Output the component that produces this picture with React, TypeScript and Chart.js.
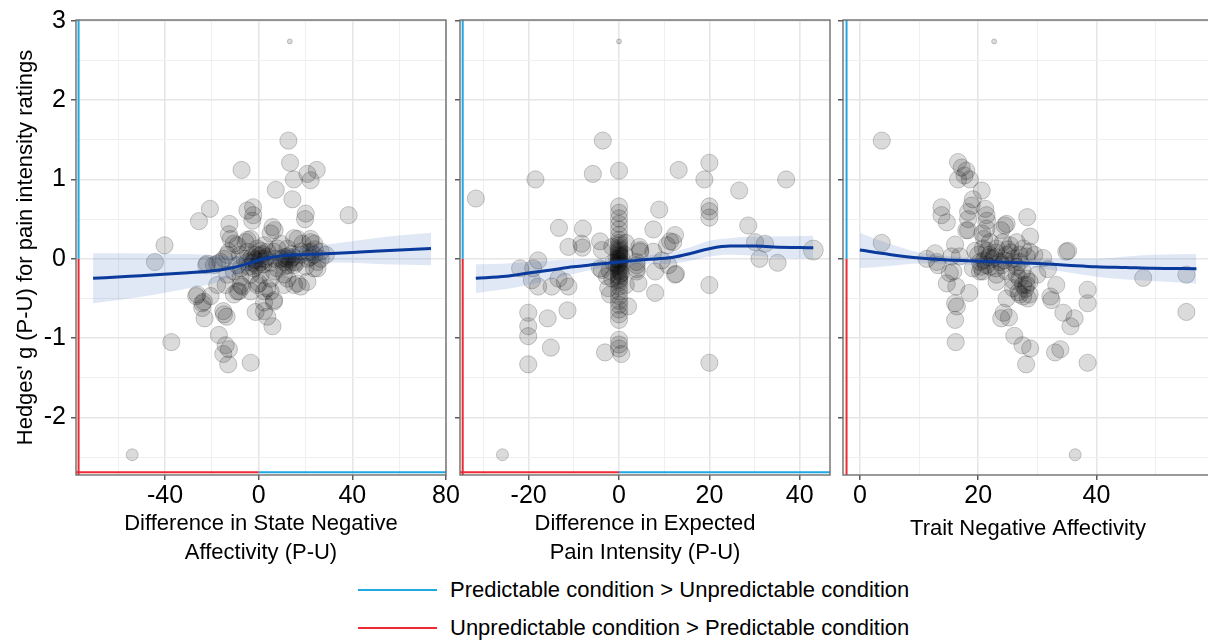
import React, { useEffect, useRef } from "react";
import { Chart, registerables } from "chart.js";

Chart.register(...registerables);

type Pt = [number, number, number?];

const FONT = '"Liberation Sans", Arial, Helvetica, sans-serif';
const BLUE = "#1fa8e2";
const RED = "#ee2a35";

// ---------- shared y axis ----------
const yMajorTicks = [-2, -1, 0, 1, 2, 3];
const yMinorTicks = [-2.5, -1.5, -0.5, 0.5, 1.5, 2.5];
const yLimits = [-2.725, 3.01];
const yTitle = "Hedges' g (P-U) for pain intensity ratings";
const refLineBottomY = -2.69;

// ---------- panel 1: state negative affectivity ----------
const stateTicks = [-40, 0, 40, 80];
const stateMinor = [-60, -20, 20, 60];
const stateLimits = [-78, 80];
const stateTitle = ["Difference in State Negative", "Affectivity (P-U)"];
const stateRefX = -76.9;
const statePoints: Pt[] = [
  [13.3, 2.74, 2.5], [12.7, 1.49], [13.4, 1.21], [-7.3, 1.12], [15, 1.0], [20.8, 1.07], [22.2, 0.99],
  [24.8, 1.12], [7.3, 0.87], [14.4, 0.75], [-20.8, 0.63], [-25.5, 0.475], [-4.8, 0.61], [-2.4, 0.65],
  [-2.7, 0.48], [-2.3, 0.55], [20.1, 0.57], [19.8, 0.5], [38.4, 0.55], [-12.5, 0.44], [-12.7, 0.31],
  [-12, 0.25], [-40.2, 0.17], [5.9, 0.4], [6.8, 0.36], [5.1, 0.32], [-3.4, 0.25], [15.1, 0.26],
  [22.2, 0.25], [23.7, 0.19], [-4.8, 0.24], [-10.6, 0.19], [-44.3, -0.04], [-37.3, -1.05], [-54, -2.47, 6],
  [-26.7, -0.47], [-24.1, -0.56], [-20.5, -0.47], [-23.1, -0.75], [-17.7, -0.33], [-15.1, -0.66],
  [-13.7, -0.73], [-17, -0.96], [-14.1, -1.09], [-12.7, -1.14], [-15.1, -1.2], [-13, -1.33], [-3.4, -1.31],
  [-1.3, -0.67], [2.3, -0.66], [3.7, -0.73], [5.9, -0.85], [6.6, -0.52], [2.3, -0.55], [-22.4, -0.08],
  [-19.1, -0.08], [-8.4, -0.41], [-10.6, -0.45], [-7.7, -0.33], [-0.6, -0.33], [3.7, -0.37], [10.8, -0.33],
  [15.1, -0.33], [18, -0.35], [20.8, -0.29], [25.1, -0.12], [26.5, 0], [22.2, 0.21], [16.6, 0.25],
  [-13.4, 0.05], [-16.3, -0.04], [0.9, 0], [-0.6, -0.08], [3.7, 0.09], [8, 0.13], [12.3, 0.03],
  [15.1, -0.04], [18, 0.05], [22.2, 0.09], [-4.8, 0.09], [-7.7, -0.12], [-3.4, -0.2], [0.9, -0.2],
  [6.6, -0.16], [10.8, -0.2], [-10.6, -0.16], [-13.4, -0.2], [-22, -0.06], [-17.7, -0.06], [-14.8, 0],
  [-12.7, 0.09], [-9.1, 0.17], [-5.6, 0.21], [-0.6, 0.13], [2.3, 0.17], [9.4, 0.19], [12.3, 0.13],
  [18.7, 0.19], [26.5, 0.09], [28.7, 0.05], [-2, 0], [0.9, -0.04], [-0.6, -0.1], [3.7, 0.03],
  [-4.8, -0.04], [-9.1, -0.08], [-7.7, -0.23], [10.8, -0.04], [13.7, 0], [15.1, -0.08], [10.8, -0.1],
  [20.8, 0], [23.7, 0.05], [25.1, -0.04], [18, 0.09], [6.5, 0.09], [8, -0.12], [5.1, -0.25], [0.1, -0.31],
  [12.3, -0.25], [16.6, -0.31], [23.7, -0.12], [-14.1, -0.33], [-9.1, -0.41], [-7, -0.35], [-26.2, -0.45],
  [-23.4, -0.54], [-24.1, -0.62], [-14.8, -0.7], [-3.4, -0.41], [2.3, -0.41], [5.1, -0.41], [6.5, -0.54],
  [-1, 0.05], [1.5, 0.06], [-2.5, -0.05], [12, 0.0], [14, 0.06], [22, 0.02], [20, -0.1],
  [-3, 0.02], [-1.5, -0.02], [0.3, 0.04], [2, -0.07], [-2, -0.12], [1, 0.1], [-4, -0.1], [3, 0.0],
  [11, 0.02], [13, -0.03], [14.5, 0.02], [16, -0.05], [12.5, -0.08], [9.5, 0.0], [21, 0.08], [24, 0.12],
  [-6, 0.0], [-8, 0.05], [5, -0.05], [7, 0.0],
];
const stateSmoothX = [-70.7, -55, -40.6, -30, -19.3, -10.7, -3.4, 2.1, 10.7, 18, 26.5, 40, 53.5, 73.6];
const stateSmoothY = [-0.246, -0.22, -0.196, -0.175, -0.15, -0.11, -0.05, 0.0, 0.04, 0.052, 0.06, 0.08, 0.1, 0.13];
const stateUpper = [0.07, 0.07, 0.065, 0.06, 0.045, 0.03, 0.03, 0.06, 0.11, 0.14, 0.17, 0.22, 0.275, 0.33];
const stateLower = [-0.56, -0.5, -0.43, -0.37, -0.31, -0.22, -0.13, -0.06, -0.03, -0.03, -0.04, -0.05, -0.07, -0.08];

// ---------- panel 2: expected pain intensity ----------
const expTicks = [-20, 0, 20, 40];
const expMinor = [-30, -10, 10, 30];
const expLimits = [-35.2, 46.7];
const expTitle = ["Difference in Expected", "Pain Intensity (P-U)"];
const expRefX = -34.6;
const expPoints: Pt[] = [
  [0, 2.74, 2.5], [-3.6, 1.49], [0, 1.11], [-5.8, 1.07], [-18.5, 1.0], [-31.7, 0.76], [13.2, 1.12],
  [20, 1.21], [18.9, 1.0], [37, 1.0], [26.6, 0.86], [8.9, 0.62], [20, 0.66], [20, 0.6], [20, 0.52],
  [28.6, 0.42], [0, 0.66], [0, 0.58], [0, 0.51], [0, 0.44], [0, 0.37], [0, 0.3], [0, 0.24], [0, 0.17],
  [0, 0.12], [0, 0.08], [0, 0.04], [0, 0.0], [0, -0.02], [0, -0.05], [0, -0.08], [0, -0.12], [0, -0.16],
  [0, -0.2], [0, -0.25], [0, -0.3], [0, -0.35], [0, -0.41], [0, -0.47], [0, -0.53], [0, -0.58],
  [0, -0.64], [0, -0.7], [0, -0.77], [0, -1.02], [0, -1.08], [0, -1.13], [-13.3, 0.39], [-8, 0.38],
  [7.6, 0.37], [12.4, 0.3], [30.1, 0.21], [32.3, 0.19], [-11.2, 0.15], [-8.3, 0.19], [-8.1, 0.14],
  [-4.2, 0.22], [-3.8, 0.11], [-3.8, -0.14], [-2.1, -0.15], [4.5, 0.15], [11.3, 0.22], [12, 0.21],
  [10.6, 0.17], [4.7, 0.11], [7.6, 0.09], [9.5, -0.02], [3.9, -0.04], [3.9, -0.16], [4.3, -0.31],
  [10.9, -0.08], [12.4, -0.2], [8, -0.16], [8, -0.43], [12.6, -0.19], [20, -0.33], [20, -1.31],
  [31.1, 0], [35.1, -0.05], [43, 0.11, 10], [-21.9, -0.12], [-17.9, -0.02], [-19, -0.12], [-19.3, -0.27],
  [-17.9, -0.35], [-14.9, -0.35], [-13.4, -0.25], [-12, -0.29], [-11.2, -0.35], [-20.1, -0.68],
  [-20.1, -0.85], [-20.1, -0.975], [-20.1, -1.33], [-15.8, -0.75], [-11.4, -0.65], [-15.1, -1.12],
  [-3.1, -1.18], [-25.8, -2.47, 6], [1.5, -0.33], [-1.5, -0.25], [1.5, 0.2], [-1.5, 0.15], [2, -0.6],
  [-2, -0.45], [0.5, -1.2], [3.9, -0.08], [3.9, -0.13], [4.7, 0.09], [-4.2, -0.12], [-2.4, -0.37],
  [-2.7, -0.22], [1.2, 0.05], [-1.2, -0.05],
  [0, 0.1], [0, 0.06], [0, 0.02], [0, -0.03], [0, -0.06], [0, -0.1], [0, 0.14], [0, -0.14], [0, 0.2],
  [0.4, -0.18], [-0.4, 0.0], [0.4, 0.03], [-0.4, -0.08], [0, -0.22], [0, -0.27],
];
const expSmoothX = [-31.7, -25, -20.1, -15, -10.1, -5, 0, 6, 12, 16, 20.2, 24.6, 30, 34.2, 43];
const expSmoothY = [-0.245, -0.22, -0.18, -0.14, -0.1, -0.07, -0.04, -0.01, 0.02, 0.07, 0.13, 0.16, 0.16, 0.15, 0.14];
const expUpper = [-0.07, -0.06, -0.04, -0.02, -0.01, 0.0, 0.0, 0.04, 0.09, 0.15, 0.23, 0.26, 0.28, 0.28, 0.29];
const expLower = [-0.43, -0.38, -0.33, -0.26, -0.19, -0.13, -0.08, -0.07, -0.06, -0.02, 0.03, 0.05, 0.04, 0.02, 0.0];

// ---------- panel 3: trait negative affectivity ----------
const traitTicks = [0, 20, 40];
const traitMinor = [10, 30, 50];
const traitLimits = [-2.85, 59.7];
const traitTitle = ["Trait Negative Affectivity"];
const traitRefX = -2.25;
const traitPoints: Pt[] = [
  [22.7, 2.74, 2.5], [3.7, 1.49], [16.6, 1.22], [17.2, 1.15], [18, 1.11], [17.7, 1.05], [18.6, 1.0],
  [16.6, 1.0], [20.6, 0.86], [19.1, 0.75], [18.9, 0.67], [13.8, 0.65], [13.8, 0.55], [14.7, 0.46],
  [18.3, 0.59], [18.3, 0.5], [18.3, 0.36], [21.2, 0.63], [21.4, 0.55], [21.5, 0.48], [28.3, 0.525],
  [28.8, 0.28], [24.8, 0.44], [23.9, 0.36], [20.7, 0.32], [16.1, 0.18], [3.7, 0.2], [35.2, 0.1],
  [47.9, -0.24], [55.2, -0.2], [55.2, -0.67], [36.4, -2.47, 6], [12.7, 0.07], [11.3, 0], [13.2, -0.08],
  [15.5, 0.03], [14.7, -0.31], [15.8, -0.16], [16.3, -0.35], [16.1, -0.56], [16.4, -0.6], [16.1, -0.77],
  [16.2, -1.05], [18.5, -0.43], [20.3, -0.16], [23.1, -0.29], [24.8, -0.5], [23.9, -0.75], [25.2, -0.74],
  [24.3, -0.68], [26.1, -0.97], [27.5, -1.09], [28.8, -1.13], [28.1, -1.33], [33, -1.18], [33.9, -1.14],
  [38.5, -1.31], [34.4, -0.68], [35.6, -0.85], [36.3, -0.75], [32.2, -0.475], [32.4, -0.52], [33.2, -0.33],
  [38.5, -0.39], [38.5, -0.56], [31.8, -0.13], [31, 0.01], [28.2, -0.33], [27.6, -0.475], [28.4, -0.5],
  [26.8, -0.42], [16.9, 0.03], [15.2, -0.18], [19.1, -0.12], [20, 0.05], [20.8, 0.13], [22, 0.21],
  [23.1, 0.13], [24.2, 0.21], [25.4, 0.17], [26.5, 0.21], [27.6, 0.13], [28.7, 0.09], [20.3, -0.04],
  [21.4, -0.08], [22.5, 0], [23.7, -0.04], [24.8, 0.05], [25.9, 0], [27, -0.04], [28.2, 0.03],
  [20.8, -0.16], [23.1, -0.2], [24.8, -0.16], [26.5, -0.2], [28.2, -0.25], [27.6, -0.33], [28.7, -0.29],
  [25.9, -0.37], [27, -0.45], [28.7, -0.45], [24.5, 0.42], [21.4, 0.38], [34.9, 0.09], [21.8, 0.02],
  [23, 0.08], [22, -0.1], [24, -0.08], [25.5, 0.08], [26.5, -0.1], [21, 0.25], [18, 0.36], [19.5, 0.1],
  [30, -0.2], [29.5, 0.05], [13, -0.04],
  [21, -0.02], [22, 0.05], [23, -0.12], [21.5, 0.1], [20.5, -0.1], [22.8, 0.02], [24.5, -0.02],
  [25, 0.12], [26, -0.05], [27, 0.05], [27.5, -0.15], [26, -0.28], [28, -0.38], [27, -0.25],
];
const traitSmoothX = [0, 5, 10.1, 15, 20.3, 25, 30.1, 35, 40, 45, 49.5, 56.9];
const traitSmoothY = [0.11, 0.055, 0.01, -0.015, -0.03, -0.045, -0.06, -0.08, -0.1, -0.11, -0.12, -0.125];
const traitUpper = [0.325, 0.19, 0.08, 0.035, 0.01, 0.0, 0.0, 0.0, 0.0, 0.03, 0.05, 0.06];
const traitLower = [-0.12, -0.09, -0.06, -0.065, -0.08, -0.09, -0.12, -0.17, -0.225, -0.26, -0.28, -0.31];

// ---------- legend ----------
const legendLabels = [
  "Predictable condition > Unpredictable condition",
  "Unpredictable condition > Predictable condition",
];
const legendColors = [BLUE, RED];

// ---------- layout (pixels) ----------
const CANVAS_H = 570;
const PLOT_TOP = 16;
const PLOT_BOTTOM = 475;

interface PanelSpec {
  left: number;
  width: number;
  yAxisWidth: number;
  padRight: number;
  showYLabels: boolean;
  titlePadBottom: number;
  majorTicks: number[];
  minorTicks: number[];
  limits: number[];
  title: string[];
  refX: number;
  bottomRef: boolean;
  points: Pt[];
  smoothX: number[];
  smoothY: number[];
  upper: number[];
  lower: number[];
}

const panels: PanelSpec[] = [
  {
    left: 0, width: 475, yAxisWidth: 76, padRight: 29, showYLabels: true, titlePadBottom: 2.3,
    majorTicks: stateTicks, minorTicks: stateMinor, limits: stateLimits, title: stateTitle,
    refX: stateRefX, bottomRef: true, points: statePoints, smoothX: stateSmoothX, smoothY: stateSmoothY,
    upper: stateUpper, lower: stateLower,
  },
  {
    left: 440, width: 410, yAxisWidth: 20, padRight: 20, showYLabels: false, titlePadBottom: 2.3,
    majorTicks: expTicks, minorTicks: expMinor, limits: expLimits, title: expTitle,
    refX: expRefX, bottomRef: true, points: expPoints, smoothX: expSmoothX, smoothY: expSmoothY,
    upper: expUpper, lower: expLower,
  },
  {
    left: 823, width: 410, yAxisWidth: 20, padRight: 20, showYLabels: false, titlePadBottom: 27,
    majorTicks: traitTicks, minorTicks: traitMinor, limits: traitLimits, title: traitTitle,
    refX: traitRefX, bottomRef: false, points: traitPoints, smoothX: traitSmoothX, smoothY: traitSmoothY,
    upper: traitUpper, lower: traitLower,
  },
];

const panelBorder = {
  id: "panelBorder",
  afterDatasetsDraw(chart: any) {
    const { ctx, chartArea } = chart;
    const { left, top, right, bottom } = chartArea;
    ctx.save();
    ctx.strokeStyle = "#6e6e6e";
    ctx.lineWidth = 1.4;
    ctx.strokeRect(left, top, right - left, bottom - top);
    ctx.restore();
  },
};

function gridOpts(major: number[]) {
  return {
    color: (c: any) => (major.includes(c.tick?.value) ? "#e6e6e6" : "#efefef"),
    lineWidth: (c: any) => (major.includes(c.tick?.value) ? 1.6 : 1),
    tickColor: (c: any) => (major.includes(c.tick?.value) ? "#333333" : "rgba(0,0,0,0)"),
    tickWidth: 1.2,
    tickLength: 5,
    drawTicks: true,
  };
}

function Panel({ spec }: { spec: PanelSpec }) {
  const ref = useRef<HTMLCanvasElement | null>(null);
  useEffect(() => {
    if (!ref.current) return;
    const s = spec;
    const xy = (xs: number[], ys: number[]) => xs.map((x, i) => ({ x, y: ys[i] }));
    const datasets: any[] = [
      {
        type: "line", label: "smooth", data: xy(s.smoothX, s.smoothY),
        borderColor: "#0a3a9c", borderWidth: 3, pointRadius: 0, fill: false,
        cubicInterpolationMode: "monotone", order: 0,
      },
      {
        type: "line", label: "upper", data: xy(s.smoothX, s.upper),
        borderColor: "rgba(0,0,0,0)", borderWidth: 1, pointRadius: 0, fill: "+1",
        backgroundColor: "rgba(60,110,200,0.16)", cubicInterpolationMode: "monotone", order: 1,
      },
      {
        type: "line", label: "lower", data: xy(s.smoothX, s.lower),
        borderColor: "rgba(0,0,0,0)", borderWidth: 1, pointRadius: 0, fill: false,
        cubicInterpolationMode: "monotone", order: 1,
      },
      {
        type: "scatter", label: "studies",
        data: s.points.map((p) => ({ x: p[0], y: p[1] })),
        pointRadius: s.points.map((p) => p[2] ?? 8.6),
        backgroundColor: "rgba(0,0,0,0.14)", borderColor: "rgba(0,0,0,0.2)", borderWidth: 1,
        order: 2,
      },
      {
        type: "line", label: "refUp", data: [{ x: s.refX, y: yLimits[1] }, { x: s.refX, y: 0 }],
        borderColor: BLUE, borderWidth: 2, pointRadius: 0, fill: false, order: 3,
      },
      {
        type: "line", label: "refDown", data: [{ x: s.refX, y: 0 }, { x: s.refX, y: yLimits[0] }],
        borderColor: RED, borderWidth: 2, pointRadius: 0, fill: false, order: 3,
      },
    ];
    if (s.bottomRef) {
      datasets.push(
        {
          type: "line", label: "refLeft", data: [{ x: s.limits[0], y: refLineBottomY }, { x: 0, y: refLineBottomY }],
          borderColor: RED, borderWidth: 2, pointRadius: 0, fill: false, order: 3,
        },
        {
          type: "line", label: "refRight", data: [{ x: 0, y: refLineBottomY }, { x: s.limits[1], y: refLineBottomY }],
          borderColor: BLUE, borderWidth: 2, pointRadius: 0, fill: false, order: 3,
        }
      );
    }
    const xAll = [...s.majorTicks, ...s.minorTicks].sort((a, b) => a - b);
    const yAll = [...yMajorTicks, ...yMinorTicks].sort((a, b) => a - b);
    const chart = new Chart(ref.current, {
      type: "scatter",
      data: { datasets },
      plugins: [panelBorder],
      options: {
        animation: false,
        responsive: false,
        devicePixelRatio: 1,
        layout: { padding: { left: 0, right: s.padRight, top: PLOT_TOP, bottom: 0 } },
        plugins: { legend: { display: false }, tooltip: { enabled: false } },
        scales: {
          x: {
            type: "linear", min: s.limits[0], max: s.limits[1], bounds: "data",
            afterBuildTicks: (sc: any) => { sc.ticks = xAll.map((v) => ({ value: v })); },
            afterFit: (sc: any) => { sc.height = CANVAS_H - PLOT_BOTTOM; },
            grid: gridOpts(s.majorTicks),
            border: { display: false },
            ticks: {
              autoSkip: false, maxRotation: 0, padding: 1, color: "#000",
              font: { family: FONT, size: 25 },
              callback: (v: any) => (s.majorTicks.includes(v) ? String(v) : ""),
            },
            title: {
              display: true, text: s.title, color: "#000",
              font: { family: FONT, size: 22, lineHeight: 29 / 22 },
              padding: { top: 0, bottom: s.titlePadBottom },
            },
          },
          y: {
            type: "linear", min: yLimits[0], max: yLimits[1], bounds: "data",
            afterBuildTicks: (sc: any) => { sc.ticks = yAll.map((v) => ({ value: v })); },
            afterFit: (sc: any) => { sc.width = s.yAxisWidth; },
            grid: gridOpts(yMajorTicks),
            border: { display: false },
            ticks: {
              autoSkip: false, padding: 5, color: "#000",
              font: { family: FONT, size: 25 },
              callback: (v: any) => (s.showYLabels && yMajorTicks.includes(v) ? String(v) : ""),
            },
            title: {
              display: s.showYLabels, text: yTitle, color: "#000",
              font: { family: FONT, size: 22 },
              padding: { top: 13, bottom: 0 },
            },
          },
        },
      } as any,
    });
    return () => chart.destroy();
  }, [spec]);
  return (
    <canvas
      ref={ref}
      width={spec.width}
      height={CANVAS_H}
      style={{ position: "absolute", left: spec.left, top: 0, width: spec.width, height: CANVAS_H }}
    />
  );
}

export default function App() {
  const legendTops = [590, 628];
  return (
    <div
      style={{
        position: "absolute", left: 0, top: 0, width: 1208, height: 641,
        overflow: "hidden", background: "#fff", fontFamily: FONT,
      }}
    >
      {panels.map((p, i) => (
        <Panel key={i} spec={p} />
      ))}
      {legendLabels.map((label, i) => (
        <React.Fragment key={label}>
          <div
            style={{
              position: "absolute", left: 358, top: legendTops[i] - 1, width: 79, height: 2,
              background: legendColors[i],
            }}
          />
          <div
            style={{
              position: "absolute", left: 450, top: legendTops[i] - 15, height: 30, lineHeight: "30px",
              fontSize: 22, color: "#000", whiteSpace: "nowrap", fontFamily: FONT,
            }}
          >
            {label}
          </div>
        </React.Fragment>
      ))}
    </div>
  );
}
